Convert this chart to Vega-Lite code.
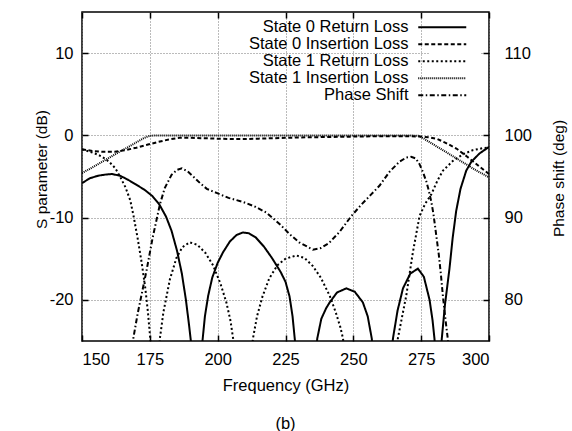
{
  "$schema": "https://vega.github.io/schema/vega-lite/v6.json",
  "width": 407,
  "height": 329,
  "autosize": {"type": "none"},
  "padding": {"left": 82, "top": 12, "right": 83, "bottom": 90},
  "background": "white",
  "config": {
    "view": {"stroke": "black", "strokeWidth": 1.5},
    "font": "Liberation Sans",
    "axis": {
      "labelFont": "Liberation Sans", "labelFontSize": 16.5, "labelColor": "black",
      "titleFont": "Liberation Sans", "titleFontSize": 16.5, "titleFontWeight": "normal", "titleColor": "black",
      "tickColor": "black", "tickSize": -6, "tickWidth": 1.5, "domain": false,
      "gridColor": "#777777", "gridDash": [1, 2], "gridWidth": 1, "gridOpacity": 1,
      "labelExpr": "toString(datum.value)"
    },
    "legend": {
      "labelFont": "Liberation Sans", "labelFontSize": 16.5, "labelColor": "black",
      "labelAlign": "right", "labelOffset": -42, "labelLimit": 400,
      "padding": 4, "rowPadding": 0, "fillColor": "white", "strokeColor": null
    }
  },
  "title": {"text": "(b)", "orient": "bottom", "fontSize": 16.5, "fontWeight": "normal", "font": "Liberation Sans", "color": "black", "offset": 22},
  "datasets": {
    "sparams": [
      {"series": "State 0 Return Loss", "f": 150, "s": -5.8},
      {"series": "State 0 Return Loss", "f": 153, "s": -5.2},
      {"series": "State 0 Return Loss", "f": 156, "s": -4.9},
      {"series": "State 0 Return Loss", "f": 159, "s": -4.75},
      {"series": "State 0 Return Loss", "f": 161, "s": -4.7},
      {"series": "State 0 Return Loss", "f": 164, "s": -4.9},
      {"series": "State 0 Return Loss", "f": 167, "s": -5.4},
      {"series": "State 0 Return Loss", "f": 170, "s": -6.0},
      {"series": "State 0 Return Loss", "f": 173, "s": -6.6},
      {"series": "State 0 Return Loss", "f": 176, "s": -7.4},
      {"series": "State 0 Return Loss", "f": 178.5, "s": -8.4},
      {"series": "State 0 Return Loss", "f": 181, "s": -9.9},
      {"series": "State 0 Return Loss", "f": 183, "s": -11.6},
      {"series": "State 0 Return Loss", "f": 185, "s": -14.0},
      {"series": "State 0 Return Loss", "f": 186.8, "s": -16.8},
      {"series": "State 0 Return Loss", "f": 188.3, "s": -20},
      {"series": "State 0 Return Loss", "f": 189.5, "s": -23.2},
      {"series": "State 0 Return Loss", "f": 190.3, "s": -25.5},
      {"series": "State 0 Return Loss", "f": 191.3, "s": -29},
      {"series": "State 0 Return Loss", "f": 192.3, "s": -45},
      {"series": "State 0 Return Loss", "f": 193.6, "s": -29},
      {"series": "State 0 Return Loss", "f": 194.4, "s": -25},
      {"series": "State 0 Return Loss", "f": 195.3, "s": -22},
      {"series": "State 0 Return Loss", "f": 196.5, "s": -19.5},
      {"series": "State 0 Return Loss", "f": 198, "s": -17.3},
      {"series": "State 0 Return Loss", "f": 200, "s": -15.5},
      {"series": "State 0 Return Loss", "f": 202, "s": -14.2},
      {"series": "State 0 Return Loss", "f": 204.5, "s": -12.9},
      {"series": "State 0 Return Loss", "f": 207, "s": -12.1},
      {"series": "State 0 Return Loss", "f": 209.3, "s": -11.8},
      {"series": "State 0 Return Loss", "f": 211.5, "s": -11.9},
      {"series": "State 0 Return Loss", "f": 214, "s": -12.4},
      {"series": "State 0 Return Loss", "f": 217, "s": -13.5},
      {"series": "State 0 Return Loss", "f": 220, "s": -14.9},
      {"series": "State 0 Return Loss", "f": 223.2, "s": -16.6},
      {"series": "State 0 Return Loss", "f": 225, "s": -17.8},
      {"series": "State 0 Return Loss", "f": 226.5, "s": -19.6},
      {"series": "State 0 Return Loss", "f": 227.6, "s": -22},
      {"series": "State 0 Return Loss", "f": 228.4, "s": -24.7},
      {"series": "State 0 Return Loss", "f": 229.2, "s": -27.5},
      {"series": "State 0 Return Loss", "f": 232.5, "s": -45},
      {"series": "State 0 Return Loss", "f": 235.9, "s": -27.5},
      {"series": "State 0 Return Loss", "f": 236.7, "s": -24.7},
      {"series": "State 0 Return Loss", "f": 238.2, "s": -22.3},
      {"series": "State 0 Return Loss", "f": 240, "s": -21},
      {"series": "State 0 Return Loss", "f": 241.3, "s": -20.3},
      {"series": "State 0 Return Loss", "f": 244, "s": -19.1},
      {"series": "State 0 Return Loss", "f": 247.4, "s": -18.6},
      {"series": "State 0 Return Loss", "f": 250.5, "s": -19.0},
      {"series": "State 0 Return Loss", "f": 253.5, "s": -20.3},
      {"series": "State 0 Return Loss", "f": 255.3, "s": -22},
      {"series": "State 0 Return Loss", "f": 256.8, "s": -24.7},
      {"series": "State 0 Return Loss", "f": 257.6, "s": -27.5},
      {"series": "State 0 Return Loss", "f": 260.7, "s": -45},
      {"series": "State 0 Return Loss", "f": 263.8, "s": -27.5},
      {"series": "State 0 Return Loss", "f": 264.6, "s": -24.7},
      {"series": "State 0 Return Loss", "f": 266.3, "s": -21.3},
      {"series": "State 0 Return Loss", "f": 268.3, "s": -18.6},
      {"series": "State 0 Return Loss", "f": 271, "s": -16.8},
      {"series": "State 0 Return Loss", "f": 273.8, "s": -16.2},
      {"series": "State 0 Return Loss", "f": 276, "s": -17.2},
      {"series": "State 0 Return Loss", "f": 278.1, "s": -20.0},
      {"series": "State 0 Return Loss", "f": 279.2, "s": -22.5},
      {"series": "State 0 Return Loss", "f": 279.9, "s": -24.7},
      {"series": "State 0 Return Loss", "f": 280.5, "s": -27.5},
      {"series": "State 0 Return Loss", "f": 281.3, "s": -45},
      {"series": "State 0 Return Loss", "f": 282, "s": -27.5},
      {"series": "State 0 Return Loss", "f": 282.6, "s": -24.7},
      {"series": "State 0 Return Loss", "f": 283.8, "s": -20.5},
      {"series": "State 0 Return Loss", "f": 285.4, "s": -16.3},
      {"series": "State 0 Return Loss", "f": 286.6, "s": -12.5},
      {"series": "State 0 Return Loss", "f": 287.9, "s": -9.2},
      {"series": "State 0 Return Loss", "f": 289.5, "s": -6.5},
      {"series": "State 0 Return Loss", "f": 291.6, "s": -4.3},
      {"series": "State 0 Return Loss", "f": 293.5, "s": -3.2},
      {"series": "State 0 Return Loss", "f": 296.5, "s": -2.2},
      {"series": "State 0 Return Loss", "f": 300, "s": -1.4},

      {"series": "State 0 Insertion Loss", "f": 150, "s": -1.7},
      {"series": "State 0 Insertion Loss", "f": 154, "s": -1.9},
      {"series": "State 0 Insertion Loss", "f": 158, "s": -2.0},
      {"series": "State 0 Insertion Loss", "f": 162, "s": -2.0},
      {"series": "State 0 Insertion Loss", "f": 166, "s": -1.8},
      {"series": "State 0 Insertion Loss", "f": 170, "s": -1.5},
      {"series": "State 0 Insertion Loss", "f": 174, "s": -1.15},
      {"series": "State 0 Insertion Loss", "f": 178, "s": -0.8},
      {"series": "State 0 Insertion Loss", "f": 182, "s": -0.5},
      {"series": "State 0 Insertion Loss", "f": 186, "s": -0.3},
      {"series": "State 0 Insertion Loss", "f": 190, "s": -0.3},
      {"series": "State 0 Insertion Loss", "f": 195, "s": -0.35},
      {"series": "State 0 Insertion Loss", "f": 200, "s": -0.4},
      {"series": "State 0 Insertion Loss", "f": 205, "s": -0.45},
      {"series": "State 0 Insertion Loss", "f": 210, "s": -0.45},
      {"series": "State 0 Insertion Loss", "f": 215, "s": -0.4},
      {"series": "State 0 Insertion Loss", "f": 220, "s": -0.35},
      {"series": "State 0 Insertion Loss", "f": 225, "s": -0.3},
      {"series": "State 0 Insertion Loss", "f": 230, "s": -0.25},
      {"series": "State 0 Insertion Loss", "f": 240, "s": -0.2},
      {"series": "State 0 Insertion Loss", "f": 250, "s": -0.15},
      {"series": "State 0 Insertion Loss", "f": 260, "s": -0.1},
      {"series": "State 0 Insertion Loss", "f": 270, "s": -0.1},
      {"series": "State 0 Insertion Loss", "f": 275, "s": -0.15},
      {"series": "State 0 Insertion Loss", "f": 278, "s": -0.25},
      {"series": "State 0 Insertion Loss", "f": 281, "s": -0.45},
      {"series": "State 0 Insertion Loss", "f": 284, "s": -0.9},
      {"series": "State 0 Insertion Loss", "f": 288, "s": -1.6},
      {"series": "State 0 Insertion Loss", "f": 292, "s": -2.6},
      {"series": "State 0 Insertion Loss", "f": 296.5, "s": -3.8},
      {"series": "State 0 Insertion Loss", "f": 300, "s": -4.7},

      {"series": "State 1 Return Loss", "f": 150, "s": -1.7},
      {"series": "State 1 Return Loss", "f": 153, "s": -2.0},
      {"series": "State 1 Return Loss", "f": 155.5, "s": -2.3},
      {"series": "State 1 Return Loss", "f": 157.4, "s": -2.6},
      {"series": "State 1 Return Loss", "f": 160, "s": -3.2},
      {"series": "State 1 Return Loss", "f": 162.3, "s": -4.0},
      {"series": "State 1 Return Loss", "f": 164, "s": -5.0},
      {"series": "State 1 Return Loss", "f": 166, "s": -6.3},
      {"series": "State 1 Return Loss", "f": 167.8, "s": -7.9},
      {"series": "State 1 Return Loss", "f": 169, "s": -9.8},
      {"series": "State 1 Return Loss", "f": 170.5, "s": -12.5},
      {"series": "State 1 Return Loss", "f": 172, "s": -15.5},
      {"series": "State 1 Return Loss", "f": 173.3, "s": -18.5},
      {"series": "State 1 Return Loss", "f": 174.3, "s": -21.5},
      {"series": "State 1 Return Loss", "f": 175.1, "s": -24.5},
      {"series": "State 1 Return Loss", "f": 175.8, "s": -27.5},
      {"series": "State 1 Return Loss", "f": 177.2, "s": -45},
      {"series": "State 1 Return Loss", "f": 178, "s": -27.5},
      {"series": "State 1 Return Loss", "f": 178.7, "s": -24.7},
      {"series": "State 1 Return Loss", "f": 180, "s": -21.5},
      {"series": "State 1 Return Loss", "f": 182.4, "s": -17.5},
      {"series": "State 1 Return Loss", "f": 184.8, "s": -14.9},
      {"series": "State 1 Return Loss", "f": 187, "s": -13.6},
      {"series": "State 1 Return Loss", "f": 189.7, "s": -13.0},
      {"series": "State 1 Return Loss", "f": 192.5, "s": -13.3},
      {"series": "State 1 Return Loss", "f": 195.5, "s": -14.3},
      {"series": "State 1 Return Loss", "f": 198.3, "s": -15.8},
      {"series": "State 1 Return Loss", "f": 201, "s": -18},
      {"series": "State 1 Return Loss", "f": 203.2, "s": -20.3},
      {"series": "State 1 Return Loss", "f": 204.7, "s": -22.5},
      {"series": "State 1 Return Loss", "f": 205.7, "s": -24.7},
      {"series": "State 1 Return Loss", "f": 206.5, "s": -27.5},
      {"series": "State 1 Return Loss", "f": 209.4, "s": -45},
      {"series": "State 1 Return Loss", "f": 212.2, "s": -27.5},
      {"series": "State 1 Return Loss", "f": 213, "s": -24.7},
      {"series": "State 1 Return Loss", "f": 214.5, "s": -22},
      {"series": "State 1 Return Loss", "f": 216.5, "s": -19.6},
      {"series": "State 1 Return Loss", "f": 219, "s": -17.4},
      {"series": "State 1 Return Loss", "f": 222, "s": -15.8},
      {"series": "State 1 Return Loss", "f": 225, "s": -15.0},
      {"series": "State 1 Return Loss", "f": 229, "s": -14.6},
      {"series": "State 1 Return Loss", "f": 232, "s": -14.9},
      {"series": "State 1 Return Loss", "f": 235.1, "s": -15.9},
      {"series": "State 1 Return Loss", "f": 238, "s": -17.3},
      {"series": "State 1 Return Loss", "f": 241.3, "s": -19.5},
      {"series": "State 1 Return Loss", "f": 243.5, "s": -21.5},
      {"series": "State 1 Return Loss", "f": 245.2, "s": -23.3},
      {"series": "State 1 Return Loss", "f": 246.2, "s": -24.7},
      {"series": "State 1 Return Loss", "f": 247, "s": -27.5},
      {"series": "State 1 Return Loss", "f": 256.5, "s": -45},
      {"series": "State 1 Return Loss", "f": 265.6, "s": -27.5},
      {"series": "State 1 Return Loss", "f": 266.4, "s": -24.7},
      {"series": "State 1 Return Loss", "f": 268, "s": -22},
      {"series": "State 1 Return Loss", "f": 269.5, "s": -19.5},
      {"series": "State 1 Return Loss", "f": 271.9, "s": -14.3},
      {"series": "State 1 Return Loss", "f": 274.4, "s": -9.8},
      {"series": "State 1 Return Loss", "f": 276.5, "s": -8.3},
      {"series": "State 1 Return Loss", "f": 278.7, "s": -7.2},
      {"series": "State 1 Return Loss", "f": 281, "s": -5.5},
      {"series": "State 1 Return Loss", "f": 283, "s": -4.3},
      {"series": "State 1 Return Loss", "f": 286.7, "s": -3.1},
      {"series": "State 1 Return Loss", "f": 290.4, "s": -2.3},
      {"series": "State 1 Return Loss", "f": 294, "s": -1.8},
      {"series": "State 1 Return Loss", "f": 297.7, "s": -1.55},
      {"series": "State 1 Return Loss", "f": 300, "s": -1.5},

      {"series": "State 1 Insertion Loss", "f": 150, "s": -4.6},
      {"series": "State 1 Insertion Loss", "f": 154, "s": -3.85},
      {"series": "State 1 Insertion Loss", "f": 158, "s": -3.1},
      {"series": "State 1 Insertion Loss", "f": 162, "s": -2.35},
      {"series": "State 1 Insertion Loss", "f": 166, "s": -1.6},
      {"series": "State 1 Insertion Loss", "f": 170, "s": -0.85},
      {"series": "State 1 Insertion Loss", "f": 173, "s": -0.3},
      {"series": "State 1 Insertion Loss", "f": 175, "s": -0.05},
      {"series": "State 1 Insertion Loss", "f": 178, "s": 0},
      {"series": "State 1 Insertion Loss", "f": 200, "s": 0},
      {"series": "State 1 Insertion Loss", "f": 225, "s": 0},
      {"series": "State 1 Insertion Loss", "f": 250, "s": 0},
      {"series": "State 1 Insertion Loss", "f": 270, "s": 0},
      {"series": "State 1 Insertion Loss", "f": 274, "s": -0.05},
      {"series": "State 1 Insertion Loss", "f": 276, "s": -0.4},
      {"series": "State 1 Insertion Loss", "f": 280, "s": -1.2},
      {"series": "State 1 Insertion Loss", "f": 285, "s": -2.2},
      {"series": "State 1 Insertion Loss", "f": 290, "s": -3.2},
      {"series": "State 1 Insertion Loss", "f": 295, "s": -4.2},
      {"series": "State 1 Insertion Loss", "f": 300, "s": -5.1}
    ],
    "phase": [
      {"series": "Phase Shift", "f": 168.2, "p": 73},
      {"series": "Phase Shift", "f": 168.9, "p": 75.3},
      {"series": "Phase Shift", "f": 170.5, "p": 78.3},
      {"series": "Phase Shift", "f": 172, "p": 80.7},
      {"series": "Phase Shift", "f": 173.8, "p": 83.6},
      {"series": "Phase Shift", "f": 176, "p": 87.5},
      {"series": "Phase Shift", "f": 178.7, "p": 91.6},
      {"series": "Phase Shift", "f": 180.5, "p": 93.6},
      {"series": "Phase Shift", "f": 183, "p": 95.2},
      {"series": "Phase Shift", "f": 185, "p": 95.8},
      {"series": "Phase Shift", "f": 186.8, "p": 96},
      {"series": "Phase Shift", "f": 189, "p": 95.6},
      {"series": "Phase Shift", "f": 191, "p": 95.0},
      {"series": "Phase Shift", "f": 193.5, "p": 94.2},
      {"series": "Phase Shift", "f": 196, "p": 93.5},
      {"series": "Phase Shift", "f": 199.6, "p": 93.0},
      {"series": "Phase Shift", "f": 204, "p": 92.4},
      {"series": "Phase Shift", "f": 209.4, "p": 91.9},
      {"series": "Phase Shift", "f": 214, "p": 91.3},
      {"series": "Phase Shift", "f": 218, "p": 90.6},
      {"series": "Phase Shift", "f": 222.9, "p": 89.2},
      {"series": "Phase Shift", "f": 226.5, "p": 88.0},
      {"series": "Phase Shift", "f": 230, "p": 87.0},
      {"series": "Phase Shift", "f": 235.1, "p": 86.1},
      {"series": "Phase Shift", "f": 238, "p": 86.3},
      {"series": "Phase Shift", "f": 241, "p": 86.9},
      {"series": "Phase Shift", "f": 245, "p": 88.3},
      {"series": "Phase Shift", "f": 249.3, "p": 90.2},
      {"series": "Phase Shift", "f": 253, "p": 91.6},
      {"series": "Phase Shift", "f": 256.5, "p": 92.8},
      {"series": "Phase Shift", "f": 259.7, "p": 93.9},
      {"series": "Phase Shift", "f": 263.4, "p": 95.6},
      {"series": "Phase Shift", "f": 267, "p": 96.8},
      {"series": "Phase Shift", "f": 269.5, "p": 97.3},
      {"series": "Phase Shift", "f": 271.3, "p": 97.4},
      {"series": "Phase Shift", "f": 273, "p": 97.2},
      {"series": "Phase Shift", "f": 274.4, "p": 96.5},
      {"series": "Phase Shift", "f": 275.7, "p": 95.5},
      {"series": "Phase Shift", "f": 276.9, "p": 94.4},
      {"series": "Phase Shift", "f": 277.8, "p": 93.3},
      {"series": "Phase Shift", "f": 278.7, "p": 92.0},
      {"series": "Phase Shift", "f": 279.5, "p": 90.5},
      {"series": "Phase Shift", "f": 280.5, "p": 88},
      {"series": "Phase Shift", "f": 281.5, "p": 85.5},
      {"series": "Phase Shift", "f": 282.3, "p": 83},
      {"series": "Phase Shift", "f": 283, "p": 80.5},
      {"series": "Phase Shift", "f": 284, "p": 77.5},
      {"series": "Phase Shift", "f": 284.8, "p": 75.3},
      {"series": "Phase Shift", "f": 285.5, "p": 73}
    ]
  },
  "layer": [
    {
      "data": {"name": "sparams"},
      "mark": {"type": "line", "clip": true, "color": "black"},
      "encoding": {
        "x": {
          "field": "f", "type": "quantitative",
          "scale": {"domain": [150, 300], "nice": false, "zero": false},
          "axis": {"values": [150, 175, 200, 225, 250, 275, 300], "title": "Frequency (GHz)", "grid": true, "labelPadding": 16, "titleX": 203.5, "titleY": 44, "titleBaseline": "middle"}
        },
        "y": {
          "field": "s", "type": "quantitative",
          "scale": {"domain": [-25, 15], "nice": false, "zero": false},
          "axis": {"values": [-20, -10, 0, 10], "title": "S parameter (dB)", "grid": true, "labelPadding": 15, "titleX": -41, "titleY": 157, "titleAngle": -90, "titleBaseline": "middle", "titleFontSize": 15.5}
        },
        "strokeDash": {
          "field": "series", "type": "nominal", "title": null,
          "scale": {"domain": ["State 0 Return Loss", "State 0 Insertion Loss", "State 1 Return Loss", "State 1 Insertion Loss", "Phase Shift"], "range": [[1, 0], [4, 2.5], [2, 2.5], [1, 1], [5, 2.5, 1.5, 2.5]]},
          "legend": {"orient": "none", "legendX": 348, "legendY": 3, "symbolType": "M-65.9,0M-6,0H6M7.4,0", "symbolSize": 64, "symbolStrokeColor": "black"}
        },
        "strokeWidth": {
          "field": "series", "type": "nominal", "title": null,
          "scale": {"domain": ["State 0 Return Loss", "State 0 Insertion Loss", "State 1 Return Loss", "State 1 Insertion Loss", "Phase Shift"], "range": [2, 2, 2, 1, 1.5]},
          "legend": {"orient": "none", "legendX": 348, "legendY": 3, "symbolType": "M-65.9,0M-6,0H6M7.4,0", "symbolSize": 64, "symbolStrokeColor": "black"}
        }
      }
    },
    {
      "data": {"name": "phase"},
      "mark": {"type": "line", "clip": true, "color": "black"},
      "encoding": {
        "x": {
          "field": "f", "type": "quantitative",
          "scale": {"domain": [150, 300], "nice": false, "zero": false},
          "axis": {"orient": "top", "values": [150, 175, 200, 225, 250, 275, 300], "labels": false, "title": null, "grid": false, "zindex": 1}
        },
        "y": {
          "field": "p", "type": "quantitative",
          "scale": {"domain": [75, 115], "nice": false, "zero": false},
          "axis": {"orient": "right", "values": [80, 90, 100, 110], "title": "Phase shift (deg)", "grid": false, "labelPadding": 21, "titleX": 69, "titleY": 166, "titleAngle": -90, "titleBaseline": "middle", "titleFontSize": 15.5, "zindex": 1}
        },
        "strokeDash": {
          "field": "series", "type": "nominal", "title": null,
          "scale": {"domain": ["State 0 Return Loss", "State 0 Insertion Loss", "State 1 Return Loss", "State 1 Insertion Loss", "Phase Shift"], "range": [[1, 0], [4, 2.5], [2, 2.5], [1, 1], [5, 2.5, 1.5, 2.5]]},
          "legend": {"orient": "none", "legendX": 348, "legendY": 3, "symbolType": "M-65.9,0M-6,0H6M7.4,0", "symbolSize": 64, "symbolStrokeColor": "black"}
        },
        "strokeWidth": {
          "field": "series", "type": "nominal", "title": null,
          "scale": {"domain": ["State 0 Return Loss", "State 0 Insertion Loss", "State 1 Return Loss", "State 1 Insertion Loss", "Phase Shift"], "range": [2, 2, 2, 1, 1.5]},
          "legend": {"orient": "none", "legendX": 348, "legendY": 3, "symbolType": "M-65.9,0M-6,0H6M7.4,0", "symbolSize": 64, "symbolStrokeColor": "black"}
        }
      }
    }
  ],
  "resolve": {"scale": {"y": "independent"}, "axis": {"x": "independent"}}
}
